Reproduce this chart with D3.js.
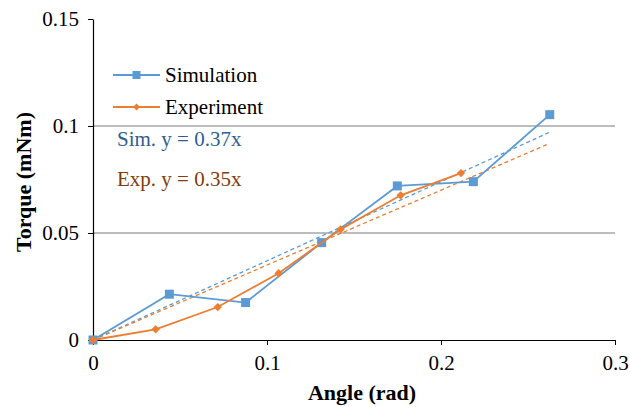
<!DOCTYPE html>
<html>
<head>
<meta charset="utf-8">
<script src="https://cdn.jsdelivr.net/npm/d3@7"></script>
<style>
  body { margin: 0; background: #fff; }
  svg { display: block; font-family: "Liberation Serif", "Times New Roman", serif; }
</style>
</head>
<body>
<svg id="chart" width="630" height="407"></svg>
<script>
// Torque vs. angle: simulation and experiment with linear fits
const simAngle = [0, 0.0439, 0.0877, 0.1314, 0.1749, 0.2186, 0.2625];
const simTorque = [0, 0.0214, 0.0175, 0.0455, 0.0720, 0.0740, 0.1053];
const expAngle = [0, 0.0360, 0.0717, 0.1067, 0.1423, 0.1768, 0.2115];
const expTorque = [0, 0.0050, 0.0154, 0.0312, 0.0517, 0.0676, 0.0780];
const simSlope = 0.37;
const expSlope = 0.35;
const fitEnd = [0.2625, 0.261];
const xTicks = [0, 0.1, 0.2, 0.3];
const yTicks = [0, 0.05, 0.1, 0.15];

const svg = d3.select("#chart");
const x = d3.scaleLinear().domain([0, 0.3]).range([93, 615]);
const y = d3.scaleLinear().domain([0, 0.15]).range([340, 19]);

const simColor = "#5B9BD5", expColor = "#ED7D31";
const FS = 21;

// horizontal gridlines
svg.append("g").selectAll("line").data([0.05, 0.1]).join("line")
  .attr("x1", x(0)).attr("x2", x(0.3))
  .attr("y1", d => y(d)).attr("y2", d => y(d))
  .attr("stroke", "#A6A6A6").attr("stroke-width", 1.3);

// axes
const fmt = d => d === 0 ? "0" : String(d);
const xAxis = svg.append("g").attr("transform", `translate(0,${y(0)})`)
  .call(d3.axisBottom(x).tickValues(xTicks).tickFormat(fmt).tickSize(5).tickSizeOuter(0));
const yAxis = svg.append("g").attr("transform", `translate(${x(0)},0)`)
  .call(d3.axisLeft(y).tickValues(yTicks).tickFormat(fmt).tickSize(5).tickSizeOuter(0));
[xAxis, yAxis].forEach(g => {
  g.select(".domain").attr("stroke", "#000").attr("stroke-width", 1.2);
  g.selectAll(".tick line").attr("stroke", "#000").attr("stroke-width", 1);
  g.selectAll(".tick text").attr("font-family", "Liberation Serif, serif")
    .attr("font-size", FS).attr("fill", "#000");
});
xAxis.selectAll(".tick text").attr("y", 30).attr("dy", 0);
yAxis.selectAll(".tick text").attr("x", -14);

// dashed linear fits
const fits = [
  { slope: simSlope, end: fitEnd[0], color: simColor },
  { slope: expSlope, end: fitEnd[1], color: expColor }
];
svg.append("g").selectAll("line").data(fits).join("line")
  .attr("x1", x(0)).attr("y1", y(0))
  .attr("x2", d => x(d.end)).attr("y2", d => y(d.slope * d.end))
  .attr("stroke", d => d.color).attr("stroke-width", 1.3)
  .attr("stroke-dasharray", "4,3");

const line = d3.line().x(d => x(d[0])).y(d => y(d[1]));
const simData = d3.zip(simAngle, simTorque);
const expData = d3.zip(expAngle, expTorque);

// simulation series
svg.append("path").datum(simData).attr("d", line)
  .attr("fill", "none").attr("stroke", simColor).attr("stroke-width", 1.8);
svg.append("g").selectAll("rect").data(simData).join("rect")
  .attr("x", d => x(d[0]) - 4.5).attr("y", d => y(d[1]) - 4.5)
  .attr("width", 9).attr("height", 9).attr("fill", simColor);

// experiment series
svg.append("path").datum(expData).attr("d", line)
  .attr("fill", "none").attr("stroke", expColor).attr("stroke-width", 1.8);
const diamond = d3.symbol().type(d3.symbolDiamond2).size(44);
svg.append("g").selectAll("path").data(expData).join("path")
  .attr("d", diamond)
  .attr("transform", d => `translate(${x(d[0])},${y(d[1])})`)
  .attr("fill", expColor);

// legend
const legend = [
  { name: "Simulation", color: simColor, shape: "square", yy: 75 },
  { name: "Experiment", color: expColor, shape: "diamond", yy: 107 }
];
const lg = svg.append("g");
legend.forEach(l => {
  lg.append("line").attr("x1", 113).attr("x2", 160).attr("y1", l.yy).attr("y2", l.yy)
    .attr("stroke", l.color).attr("stroke-width", 1.8);
  if (l.shape === "square") {
    lg.append("rect").attr("x", 136.5 - 4).attr("y", l.yy - 4).attr("width", 8).attr("height", 8).attr("fill", l.color);
  } else {
    lg.append("path").attr("d", d3.symbol().type(d3.symbolDiamond2).size(30))
      .attr("transform", `translate(136.5,${l.yy})`).attr("fill", l.color);
  }
  lg.append("text").attr("x", 165).attr("y", l.yy).attr("dy", "0.35em")
    .attr("font-size", FS).attr("fill", "#000").text(l.name);
});

// fit equations
svg.append("text").attr("x", 117).attr("y", 139).attr("dy", "0.35em")
  .attr("font-size", FS).attr("fill", "#2F5F8F").text("Sim. y = 0.37x");
svg.append("text").attr("x", 117).attr("y", 179).attr("dy", "0.35em")
  .attr("font-size", FS).attr("fill", "#843C0C").text("Exp. y = 0.35x");

// axis titles
svg.append("text").attr("x", 362).attr("y", 392).attr("dy", "0.35em")
  .attr("text-anchor", "middle").attr("font-size", 22).attr("font-weight", "bold")
  .text("Angle (rad)");
svg.append("text").attr("transform", "translate(23,182) rotate(-90)")
  .attr("dy", "0.35em").attr("text-anchor", "middle").attr("font-size", 22)
  .attr("font-weight", "bold").text("Torque (mNm)");
</script>
</body>
</html>
